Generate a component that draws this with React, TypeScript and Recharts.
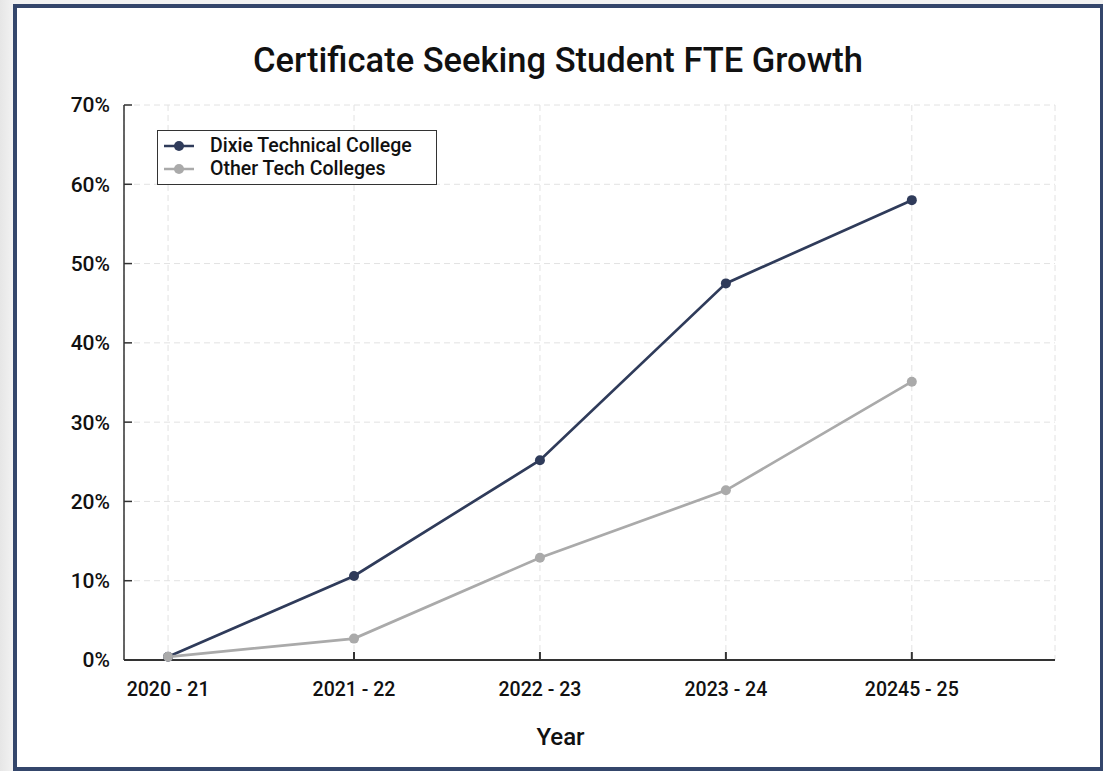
import React from "react";
import {
  LineChart,
  Line,
  XAxis,
  YAxis,
  CartesianGrid,
} from "recharts";

const years = ["2020 - 21", "2021 - 22", "2022 - 23", "2023 - 24", "20245 - 25"];
const dixie = [0.4, 10.6, 25.2, 47.5, 58.0];
const otherTech = [0.4, 2.7, 12.9, 21.4, 35.1];
const yTicks = [0, 10, 20, 30, 40, 50, 60, 70];

const DARK = "#2f3b5a";
const GRAY = "#aaaaaa";
const FONT = "Roboto, 'Noto Sans', sans-serif";

const series = [
  { key: "dixie", name: "Dixie Technical College", color: DARK },
  { key: "other", name: "Other Tech Colleges", color: GRAY },
];

const data = years.map((label, i) => ({
  x: i,
  label,
  dixie: dixie[i],
  other: otherTech[i],
}));

function LegendBox() {
  return (
    <div
      style={{
        position: "absolute",
        left: 157,
        top: 130,
        border: "1.5px solid #333",
        background: "#fff",
        padding: "3px 0 4px 5px",
        width: 280,
        height: 55,
        boxSizing: "border-box",
        fontFamily: FONT,
        fontSize: 19.5,
        fontWeight: 500,
        color: "#111",
        lineHeight: "23px",
      }}
    >
      {series.map((s) => (
        <div key={s.key} style={{ display: "flex", alignItems: "center" }}>
          <svg width={32} height={14} style={{ marginRight: 15 }}>
            <line x1={1} y1={7} x2={31} y2={7} stroke={s.color} strokeWidth={2.5} />
            <circle cx={16} cy={7} r={5} fill={s.color} />
          </svg>
          <span>{s.name}</span>
        </div>
      ))}
    </div>
  );
}

export default function App() {
  return (
    <div
      style={{
        position: "fixed",
        left: 0,
        top: 0,
        width: 1103,
        height: 771,
        background: "linear-gradient(90deg, #e6e6e6 0px, #f2f2f2 13px)",
        overflow: "hidden",
      }}
    >
      <div
        style={{
          position: "absolute",
          left: 13,
          top: 4,
          width: 1090,
          height: 767,
          border: "4px solid #34466b",
          borderRight: "3px solid #34466b",
          boxSizing: "border-box",
          background: "#fff",
        }}
      />
      <div
        style={{
          position: "absolute",
          left: 0,
          top: 40,
          width: 1116,
          textAlign: "center",
          fontFamily: FONT,
          fontWeight: 500,
          fontSize: 34.5,
          color: "#111",
        }}
      >
        Certificate Seeking Student FTE Growth
      </div>
      <div style={{ position: "absolute", left: 0, top: 0 }}>
        <LineChart
          width={1103}
          height={771}
          data={data}
          margin={{ top: 105, right: 48, left: 0, bottom: 0 }}
        >
          <CartesianGrid stroke="#e2e2e2" strokeDasharray="6 4" />
          <XAxis
            dataKey="x"
            type="number"
            domain={[-0.237, 4.77]}
            allowDataOverflow
            ticks={[0, 1, 2, 3, 4]}
            interval={0}
            tickFormatter={(v: number) => years[v] ?? ""}
            height={111}
            tickSize={-8}
            tickMargin={30}
            axisLine={{ stroke: "#333", strokeWidth: 2 }}
            tickLine={{ stroke: "#333", strokeWidth: 2 }}
            tick={{ fill: "#111", fontSize: 19.5, fontFamily: FONT, fontWeight: 500 }}
            label={{
              value: "Year",
              position: "insideBottom",
              offset: 26,
              dx: -29,
              fill: "#111",
              fontSize: 24,
              fontWeight: 500,
              fontFamily: FONT,
            }}
          />
          <YAxis
            type="number"
            domain={[0, 70]}
            ticks={yTicks}
            interval={0}
            tickFormatter={(v: number) => `${v}%`}
            width={124}
            tickSize={-8}
            tickMargin={22}
            axisLine={{ stroke: "#333", strokeWidth: 1.5 }}
            tickLine={{ stroke: "#333", strokeWidth: 1.5 }}
            tick={{ fill: "#111", fontSize: 21, fontFamily: FONT, fontWeight: 500 }}
          />
          {series.map((s) => (
            <Line
              key={s.key}
              type="linear"
              dataKey={s.key}
              name={s.name}
              stroke={s.color}
              strokeWidth={2.7}
              dot={{ r: 5, fill: s.color, stroke: s.color, strokeWidth: 0 }}
              activeDot={false}
              isAnimationActive={false}
            />
          ))}
        </LineChart>
      </div>
      <LegendBox />
    </div>
  );
}
